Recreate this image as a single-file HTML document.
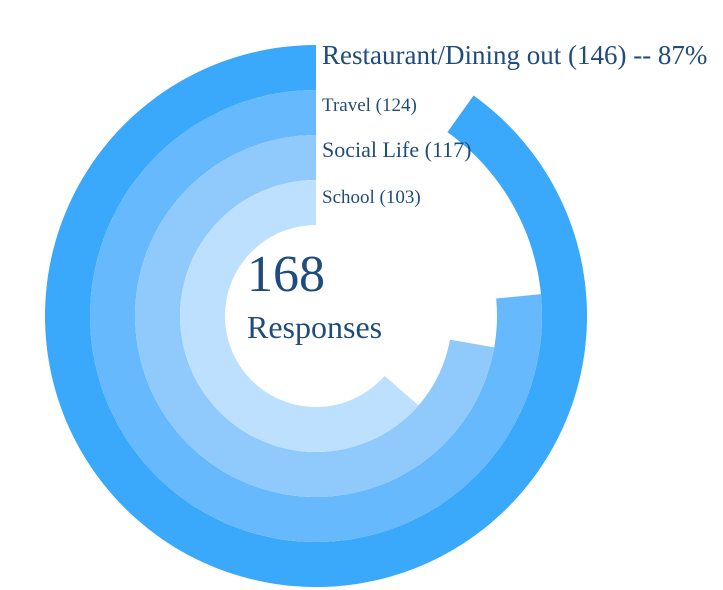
<!DOCTYPE html>
<html><head><meta charset="utf-8"><style>
html,body{margin:0;padding:0;background:#fff;}
svg{display:block;font-family:"Liberation Serif",serif;}
</style></head><body>
<svg id="chart" width="723" height="590"></svg>
<script>
const categories = ["Restaurant/Dining out","Travel","Social Life","School"];
const values = [146,124,117,103];
const total = 168;
const labelTexts = ["Restaurant/Dining out (146) -- 87%","Travel (124)","Social Life (117)","School (103)"];
const colors = ["#3aa8fb","#66b9fc","#90cafd","#bde0fe"];
const svg = document.getElementById('chart');
const NS = "http://www.w3.org/2000/svg";
const cx = 316, cy = 316, outerR = 271, ringW = 45;
const maxScale = 162;
function angle(v){ return v / maxScale * 2 * Math.PI; }
function pt(r,a){ return [cx + r*Math.sin(a), cy - r*Math.cos(a)]; }
values.forEach((v,i)=>{
  const r1 = outerR - i*ringW, r0 = r1 - ringW;
  const a = Math.min(angle(v), 2*Math.PI - 0.0001);
  // counterclockwise from top: angle goes negative
  const [x1,y1] = pt(r1,0), [x2,y2] = pt(r1,-a), [x3,y3] = pt(r0,-a), [x4,y4] = pt(r0,0);
  const large = a > Math.PI ? 1 : 0;
  const p = document.createElementNS(NS,'path');
  p.setAttribute('d',`M${x1},${y1} A${r1},${r1} 0 ${large} 0 ${x2},${y2} L${x3},${y3} A${r0},${r0} 0 ${large} 1 ${x4},${y4} Z`);
  p.setAttribute('fill',colors[i]);
  
  
  svg.appendChild(p);
});
const labelY = [64,111,157,203];
const labelSize = [27,19,22,19];
labelTexts.forEach((t,i)=>{
  const tx = document.createElementNS(NS,'text');
  tx.setAttribute('x',322);
  tx.setAttribute('y',labelY[i]);
  tx.setAttribute('font-size',labelSize[i]);
  tx.setAttribute('fill','#1f4c7c');
  tx.textContent = t;
  
  
  svg.appendChild(tx);
});
const c1 = document.createElementNS(NS,'text');
c1.setAttribute('x',247); c1.setAttribute('y',291); c1.setAttribute('font-size',52); c1.setAttribute('fill','#1f4c7c');
c1.textContent = String(total);


svg.appendChild(c1);
const c2 = document.createElementNS(NS,'text');
c2.setAttribute('x',247); c2.setAttribute('y',338); c2.setAttribute('font-size',32); c2.setAttribute('fill','#1f4c7c');
c2.textContent = "Responses";


svg.appendChild(c2);
</script>
</body></html>
